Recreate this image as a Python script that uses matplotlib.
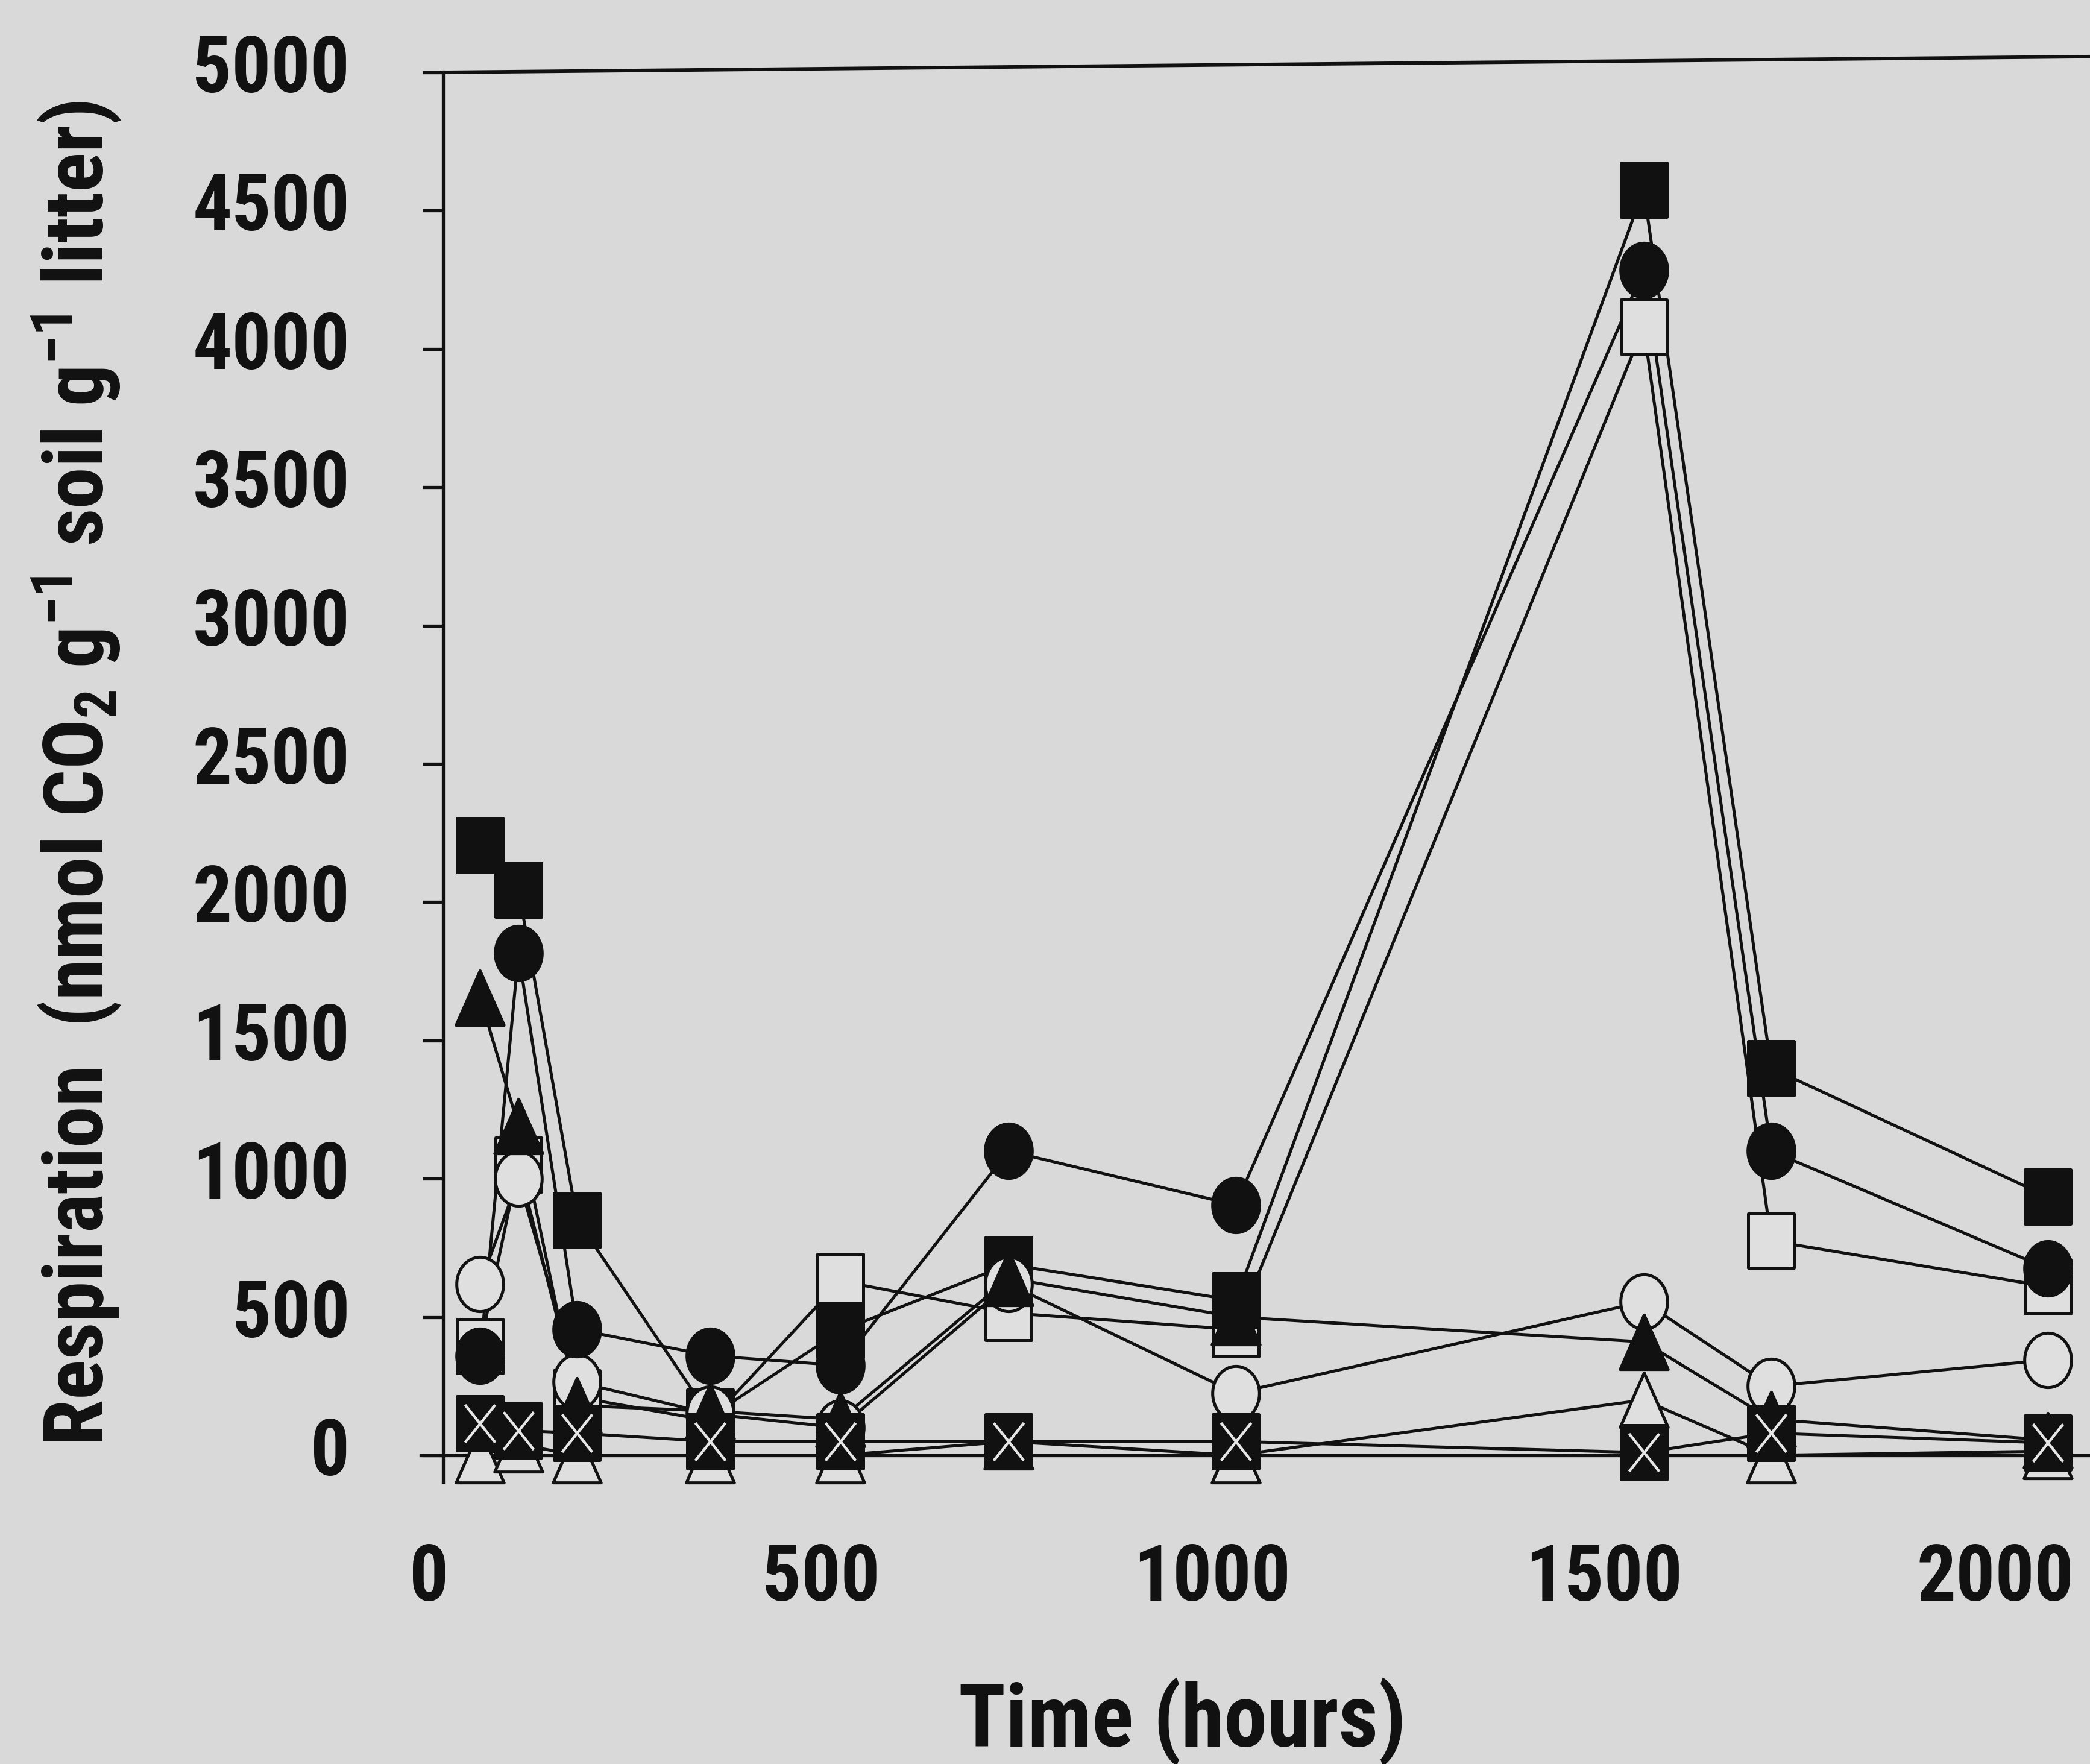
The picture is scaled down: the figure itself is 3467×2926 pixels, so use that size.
import numpy as np
import matplotlib
matplotlib.use("Agg")
import matplotlib.pyplot as plt
from matplotlib.path import Path
from matplotlib import font_manager as fm
from matplotlib.transforms import ScaledTranslation

# Sampling times (hours)
hours = [65, 114, 189, 359, 525, 740, 1030, 1551, 1714, 2067]

# Respiration (nmol CO2 g-1 soil g-1 litter) for each treatment
filled_square = [2205, 2045, 850, 140, 450, 690, 560, 4575, 1400, 935]
filled_circle = [360, 1815, 455, 360, 325, 1100, 905, 4285, 1100, 675]
open_square = [395, 1050, 210, 125, 630, 515, 455, 4080, 775, 610]
open_circle = [620, 1000, 265, 150, 100, 620, 225, 555, 250, 345]
filled_triangle = [1655, 1190, 180, 160, 130, 640, 500, 410, 130, 55]
open_triangle = [0, 40, 0, 0, 0, 50, 0, 200, 0, 15]
crossed_square = [115, 90, 80, 50, 50, 50, 50, 10, 80, 45]

x_ticks = [0, 500, 1000, 1500, 2000]
y_ticks = [0, 500, 1000, 1500, 2000, 2500, 3000, 3500, 4000, 4500, 5000]

BG = "#d9d9d9"
OPEN_FILL = "#dfdfdf"
INK = "#111111"

# Prefer a narrow sans face; fall back to the regular width one
def pick_family():
    entries = fm.fontManager.ttflist
    names = {f.name for f in entries}
    for n in ["Liberation Sans Narrow", "Arial Narrow", "Nimbus Sans Narrow",
              "Roboto Condensed", "Noto Sans Condensed", "Open Sans Condensed",
              "DejaVu Sans Condensed"]:
        if n in names:
            return n, "normal"
    for base in ["Liberation Sans", "Noto Sans", "Roboto", "Open Sans", "DejaVu Sans"]:
        if any(f.name == base and str(f.stretch) in ("condensed", "semi-condensed")
               for f in entries):
            return base, "condensed"
    return "Liberation Sans", "normal"

FAMILY, STRETCH = pick_family()
plt.rcParams["font.family"] = [FAMILY, "Liberation Sans", "DejaVu Sans"]
plt.rcParams["font.stretch"] = STRETCH
plt.rcParams["font.weight"] = "bold"
plt.rcParams["mathtext.default"] = "regular"

W, H = 3467, 2926
DPI = 100
fig = plt.figure(figsize=(W / DPI, H / DPI), dpi=DPI, facecolor=BG)
renderer = fig.canvas.get_renderer()

def fitted_size(s, target_len, target_cap=None, rotation=0):
    t = fig.text(0, 0, s, fontsize=100, rotation=rotation)
    bb = t.get_window_extent(renderer)
    t.remove()
    length = bb.height if rotation else bb.width
    size_len = 100 * target_len / length
    if target_cap is None:
        return size_len
    size_cap = target_cap / (0.716 * DPI / 72)
    return float(np.sqrt(size_len * size_cap))

TICK_SIZE = fitted_size("5000", 241, 100)
XLAB_SIZE = fitted_size("Time (hours)", 736, 104)
YLAB_TEXT = "Respiration  (nmol CO$_2$ g$^{-1}$ soil g$^{-1}$ litter)"
YLAB_SIZE = fitted_size(YLAB_TEXT, 2230, rotation=90)

ax = fig.add_axes([712 / W, 1 - 2458 / H, 1 - 712 / W, (2458 - 120) / H])
ax.set_facecolor(BG)
ax.set_xlim(0, 2121)
ax.set_ylim(-96, 5000)

# Slightly tall marker shapes
def box_path(w=0.84):
    v = [(-w / 2, -0.5), (w / 2, -0.5), (w / 2, 0.5), (-w / 2, 0.5), (-w / 2, -0.5)]
    return Path(v, [Path.MOVETO, Path.LINETO, Path.LINETO, Path.LINETO, Path.CLOSEPOLY])

def ellipse_path(w=0.86):
    t = np.linspace(0, 2 * np.pi, 64)
    v = np.c_[0.5 * w * np.cos(t), 0.5 * np.sin(t)]
    return Path(v, closed=True)

def tri_path(w=0.88):
    v = [(0, 0.5), (-w / 2, -0.5), (w / 2, -0.5), (0, 0.5)]
    return Path(v, [Path.MOVETO, Path.LINETO, Path.LINETO, Path.CLOSEPOLY])

def cross_path():
    v = [(-0.4, -0.5), (0.4, 0.5), (-0.4, 0.5), (0.4, -0.5)]
    return Path(v, [Path.MOVETO, Path.LINETO, Path.MOVETO, Path.LINETO])

SQ, CI, TR, XX = box_path(), ellipse_path(), tri_path(), cross_path()
MS = 65
MEW = 3.6
LW = 3.6

series = [
    (open_triangle, TR, OPEN_FILL),
    (open_square, SQ, OPEN_FILL),
    (filled_square, SQ, INK),
    (open_circle, CI, OPEN_FILL),
    (filled_triangle, TR, INK),
    (filled_circle, CI, INK),
    (crossed_square, SQ, INK),
]

# connecting lines first, markers above all lines
for vals, _, _ in series:
    ax.plot(hours, vals, color=INK, lw=LW, zorder=2, solid_joinstyle="round")

for z, (vals, mk, face) in enumerate(series):
    ax.plot(hours, vals, linestyle="none", marker=mk, markersize=MS,
            markerfacecolor=face, markeredgecolor=INK, markeredgewidth=MEW,
            zorder=4 + z, clip_on=False)

ax.plot(hours, crossed_square, linestyle="none", marker=XX, markersize=45,
        markeredgecolor="#e6e6e6", markeredgewidth=3.2, zorder=20, clip_on=False)

# zero line
ax.axhline(0, xmin=-14 / 2755, xmax=1, color=INK, lw=3.8, zorder=2.5, clip_on=False)

# frame: left axis line and a slightly rising top rule
for side in ("right", "bottom", "top"):
    ax.spines[side].set_visible(False)
ax.spines["left"].set_position(("data", 18.5))
ax.spines["left"].set_linewidth(4.5)
ax.spines["left"].set_color(INK)
ax.plot([16, 2121], [5000, 5057], color=INK, lw=4.2, clip_on=False, zorder=3,
        solid_capstyle="butt")

ax.set_yticks(y_ticks)
ax.set_yticklabels([str(v) for v in y_ticks])
ax.set_xticks(x_ticks)
ax.set_xticklabels([str(v) for v in x_ticks])
ax.tick_params(axis="y", direction="out", length=25, width=3.8, pad=87,
               labelsize=TICK_SIZE, colors=INK)
ax.tick_params(axis="x", length=0, pad=71, labelsize=TICK_SIZE, colors=INK)

# y tick labels sit a little above their ticks
lift = ScaledTranslation(0, 16 / DPI, fig.dpi_scale_trans)
for lab in ax.get_yticklabels():
    lab.set_transform(lab.get_transform() + lift)

fig.text(1961 / W, 1 - 2897 / H, "Time (hours)", ha="center", va="baseline",
         fontsize=XLAB_SIZE, color=INK)
fig.text(127 / W, 1 - 1283 / H, YLAB_TEXT, rotation=90, ha="center",
         va="center", fontsize=YLAB_SIZE, color=INK)

fig.savefig("out.png", dpi=DPI, facecolor=BG)
